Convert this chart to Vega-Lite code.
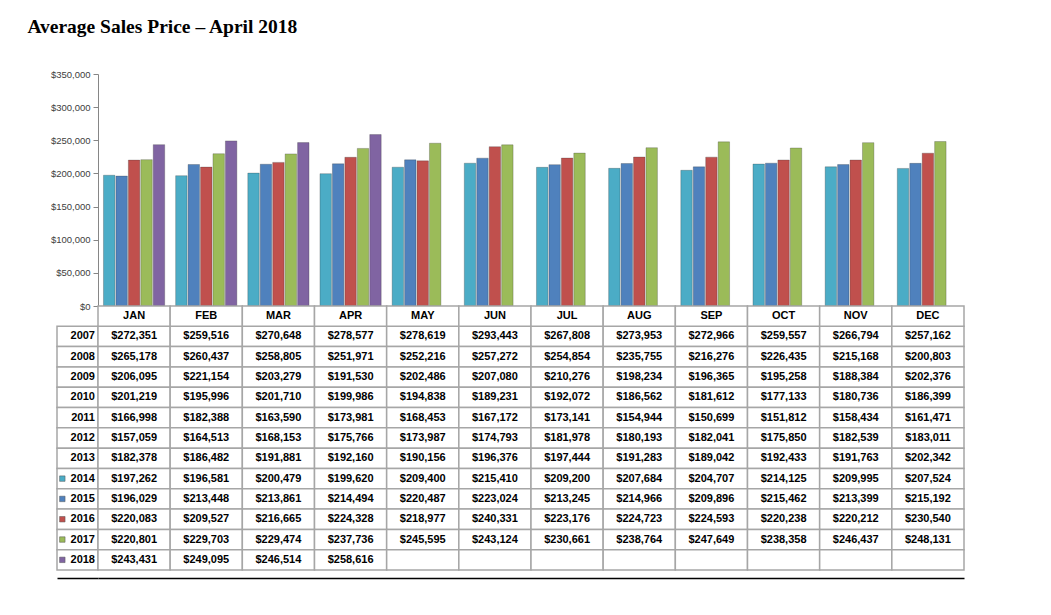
{
  "$schema": "https://vega.github.io/schema/vega-lite/v6.json",
  "padding": {"left": 27, "top": 16, "right": 10, "bottom": 5},
  "background": "white",
  "title": {"text": "Average Sales Price – April 2018", "anchor": "start", "font": "Liberation Serif", "fontSize": 19.5, "fontWeight": "bold", "color": "#000000", "offset": 32, "dx": -23},
  "config": {"view": {"stroke": null}, "font": "Liberation Sans"},
  "datasets": {
    "sales": [
      {"year":"2007","month":"JAN","value":272351},{"year":"2007","month":"FEB","value":259516},{"year":"2007","month":"MAR","value":270648},{"year":"2007","month":"APR","value":278577},{"year":"2007","month":"MAY","value":278619},{"year":"2007","month":"JUN","value":293443},{"year":"2007","month":"JUL","value":267808},{"year":"2007","month":"AUG","value":273953},{"year":"2007","month":"SEP","value":272966},{"year":"2007","month":"OCT","value":259557},{"year":"2007","month":"NOV","value":266794},{"year":"2007","month":"DEC","value":257162},
      {"year":"2008","month":"JAN","value":265178},{"year":"2008","month":"FEB","value":260437},{"year":"2008","month":"MAR","value":258805},{"year":"2008","month":"APR","value":251971},{"year":"2008","month":"MAY","value":252216},{"year":"2008","month":"JUN","value":257272},{"year":"2008","month":"JUL","value":254854},{"year":"2008","month":"AUG","value":235755},{"year":"2008","month":"SEP","value":216276},{"year":"2008","month":"OCT","value":226435},{"year":"2008","month":"NOV","value":215168},{"year":"2008","month":"DEC","value":200803},
      {"year":"2009","month":"JAN","value":206095},{"year":"2009","month":"FEB","value":221154},{"year":"2009","month":"MAR","value":203279},{"year":"2009","month":"APR","value":191530},{"year":"2009","month":"MAY","value":202486},{"year":"2009","month":"JUN","value":207080},{"year":"2009","month":"JUL","value":210276},{"year":"2009","month":"AUG","value":198234},{"year":"2009","month":"SEP","value":196365},{"year":"2009","month":"OCT","value":195258},{"year":"2009","month":"NOV","value":188384},{"year":"2009","month":"DEC","value":202376},
      {"year":"2010","month":"JAN","value":201219},{"year":"2010","month":"FEB","value":195996},{"year":"2010","month":"MAR","value":201710},{"year":"2010","month":"APR","value":199986},{"year":"2010","month":"MAY","value":194838},{"year":"2010","month":"JUN","value":189231},{"year":"2010","month":"JUL","value":192072},{"year":"2010","month":"AUG","value":186562},{"year":"2010","month":"SEP","value":181612},{"year":"2010","month":"OCT","value":177133},{"year":"2010","month":"NOV","value":180736},{"year":"2010","month":"DEC","value":186399},
      {"year":"2011","month":"JAN","value":166998},{"year":"2011","month":"FEB","value":182388},{"year":"2011","month":"MAR","value":163590},{"year":"2011","month":"APR","value":173981},{"year":"2011","month":"MAY","value":168453},{"year":"2011","month":"JUN","value":167172},{"year":"2011","month":"JUL","value":173141},{"year":"2011","month":"AUG","value":154944},{"year":"2011","month":"SEP","value":150699},{"year":"2011","month":"OCT","value":151812},{"year":"2011","month":"NOV","value":158434},{"year":"2011","month":"DEC","value":161471},
      {"year":"2012","month":"JAN","value":157059},{"year":"2012","month":"FEB","value":164513},{"year":"2012","month":"MAR","value":168153},{"year":"2012","month":"APR","value":175766},{"year":"2012","month":"MAY","value":173987},{"year":"2012","month":"JUN","value":174793},{"year":"2012","month":"JUL","value":181978},{"year":"2012","month":"AUG","value":180193},{"year":"2012","month":"SEP","value":182041},{"year":"2012","month":"OCT","value":175850},{"year":"2012","month":"NOV","value":182539},{"year":"2012","month":"DEC","value":183011},
      {"year":"2013","month":"JAN","value":182378},{"year":"2013","month":"FEB","value":186482},{"year":"2013","month":"MAR","value":191881},{"year":"2013","month":"APR","value":192160},{"year":"2013","month":"MAY","value":190156},{"year":"2013","month":"JUN","value":196376},{"year":"2013","month":"JUL","value":197444},{"year":"2013","month":"AUG","value":191283},{"year":"2013","month":"SEP","value":189042},{"year":"2013","month":"OCT","value":192433},{"year":"2013","month":"NOV","value":191763},{"year":"2013","month":"DEC","value":202342},
      {"year":"2014","month":"JAN","value":197262},{"year":"2014","month":"FEB","value":196581},{"year":"2014","month":"MAR","value":200479},{"year":"2014","month":"APR","value":199620},{"year":"2014","month":"MAY","value":209400},{"year":"2014","month":"JUN","value":215410},{"year":"2014","month":"JUL","value":209200},{"year":"2014","month":"AUG","value":207684},{"year":"2014","month":"SEP","value":204707},{"year":"2014","month":"OCT","value":214125},{"year":"2014","month":"NOV","value":209995},{"year":"2014","month":"DEC","value":207524},
      {"year":"2015","month":"JAN","value":196029},{"year":"2015","month":"FEB","value":213448},{"year":"2015","month":"MAR","value":213861},{"year":"2015","month":"APR","value":214494},{"year":"2015","month":"MAY","value":220487},{"year":"2015","month":"JUN","value":223024},{"year":"2015","month":"JUL","value":213245},{"year":"2015","month":"AUG","value":214966},{"year":"2015","month":"SEP","value":209896},{"year":"2015","month":"OCT","value":215462},{"year":"2015","month":"NOV","value":213399},{"year":"2015","month":"DEC","value":215192},
      {"year":"2016","month":"JAN","value":220083},{"year":"2016","month":"FEB","value":209527},{"year":"2016","month":"MAR","value":216665},{"year":"2016","month":"APR","value":224328},{"year":"2016","month":"MAY","value":218977},{"year":"2016","month":"JUN","value":240331},{"year":"2016","month":"JUL","value":223176},{"year":"2016","month":"AUG","value":224723},{"year":"2016","month":"SEP","value":224593},{"year":"2016","month":"OCT","value":220238},{"year":"2016","month":"NOV","value":220212},{"year":"2016","month":"DEC","value":230540},
      {"year":"2017","month":"JAN","value":220801},{"year":"2017","month":"FEB","value":229703},{"year":"2017","month":"MAR","value":229474},{"year":"2017","month":"APR","value":237736},{"year":"2017","month":"MAY","value":245595},{"year":"2017","month":"JUN","value":243124},{"year":"2017","month":"JUL","value":230661},{"year":"2017","month":"AUG","value":238764},{"year":"2017","month":"SEP","value":247649},{"year":"2017","month":"OCT","value":238358},{"year":"2017","month":"NOV","value":246437},{"year":"2017","month":"DEC","value":248131},
      {"year":"2018","month":"JAN","value":243431},{"year":"2018","month":"FEB","value":249095},{"year":"2018","month":"MAR","value":246514},{"year":"2018","month":"APR","value":258616},{"year":"2018","month":"MAY","value":null},{"year":"2018","month":"JUN","value":null},{"year":"2018","month":"JUL","value":null},{"year":"2018","month":"AUG","value":null},{"year":"2018","month":"SEP","value":null},{"year":"2018","month":"OCT","value":null},{"year":"2018","month":"NOV","value":null},{"year":"2018","month":"DEC","value":null}
    ]
  },
  "data": {"name": "sales"},
  "spacing": 0,
  "bounds": "flush",
  "vconcat": [
    {
      "width": 907,
      "height": 232,
      "transform": [
        {"filter": {"field": "year", "oneOf": ["2014", "2015", "2016", "2017", "2018"]}},
        {"filter": "isValid(datum.value)"}
      ],
      "mark": {"type": "bar", "stroke": "#333333", "strokeOpacity": 0.35, "strokeWidth": 0.8},
      "encoding": {
        "x": {"field": "month", "type": "nominal", "axis": null,
          "scale": {"domain": ["JAN","FEB","MAR","APR","MAY","JUN","JUL","AUG","SEP","OCT","NOV","DEC"], "paddingInner": 0, "paddingOuter": 0.28406, "align": 1}},
        "xOffset": {"field": "year", "type": "nominal",
          "scale": {"domain": ["2014","2015","2016","2017","2018"], "paddingInner": 0.08, "paddingOuter": 0.44}},
        "y": {"field": "value", "type": "quantitative",
          "scale": {"domain": [0, 350000]},
          "axis": {"values": [0, 50000, 100000, 150000, 200000, 250000, 300000, 350000], "format": "$,.0f", "offset": -41, "title": null, "grid": false, "domainColor": "#868686", "tickColor": "#868686", "tickSize": 5, "labelPadding": 3, "labelFontSize": 9.5, "labelColor": "#404040", "labelFont": "Liberation Sans"}},
        "color": {"field": "year", "type": "nominal", "legend": null,
          "scale": {"domain": ["2014","2015","2016","2017","2018"], "range": ["#4BACC6", "#4F81BD", "#C0504D", "#9BBB59", "#8064A2"]}}
      }
    },
    {
      "spacing": 0,
      "bounds": "flush",
      "hconcat": [
        {
          "width": 41,
          "height": 264,
          "transform": [{"filter": {"field": "month", "equal": "JAN"}}],
          "layer": [
            {
              "mark": {"type": "rect", "fill": "white", "stroke": "#a6a6a6", "strokeWidth": 1.5},
              "encoding": {
                "x": {"datum": 0, "type": "quantitative", "scale": {"domain": [0, 1], "nice": false},
                  "axis": {"orient": "bottom", "offset": 8, "domainColor": "#000000", "domainWidth": 1.5, "labels": false, "ticks": false, "title": null, "grid": false}},
                "x2": {"datum": 1},
                "y": {"field": "year", "type": "ordinal", "axis": null,
                  "scale": {"domain": ["Month","2007","2008","2009","2010","2011","2012","2013","2014","2015","2016","2017","2018"], "paddingInner": 0, "paddingOuter": 0}}
              }
            },
            {
              "mark": {"type": "text", "align": "right", "dx": -3, "font": "Liberation Sans", "fontSize": 11, "fontWeight": "bold", "color": "#000000"},
              "encoding": {
                "x": {"datum": 1, "type": "quantitative"},
                "y": {"field": "year", "type": "ordinal", "axis": null},
                "text": {"field": "year", "type": "nominal"}
              }
            },
            {
              "transform": [{"filter": {"field": "year", "oneOf": ["2014","2015","2016","2017","2018"]}}],
              "mark": {"type": "point", "shape": "square", "filled": true, "size": 30, "opacity": 1, "stroke": "#555555", "strokeWidth": 0.5},
              "encoding": {
                "x": {"datum": 0.13, "type": "quantitative"},
                "y": {"field": "year", "type": "ordinal", "axis": null},
                "color": {"field": "year", "type": "nominal", "legend": null,
                  "scale": {"domain": ["2014","2015","2016","2017","2018"], "range": ["#4BACC6", "#4F81BD", "#C0504D", "#9BBB59", "#8064A2"]}}
              }
            }
          ]
        },
        {
          "width": 866,
          "height": 264,
          "encoding": {
            "x": {"field": "month", "type": "nominal",
              "scale": {"domain": ["JAN","FEB","MAR","APR","MAY","JUN","JUL","AUG","SEP","OCT","NOV","DEC"], "paddingInner": 0, "paddingOuter": 0},
              "axis": {"orient": "bottom", "offset": 8, "domainColor": "#000000", "domainWidth": 1.5, "labels": false, "ticks": false, "title": null, "grid": false}}
          },
          "layer": [
            {
              "mark": {"type": "rect", "fill": "white", "stroke": "#a6a6a6", "strokeWidth": 1.5},
              "encoding": {
                "y": {"field": "year", "type": "ordinal", "axis": null,
                  "scale": {"domain": ["Month","2007","2008","2009","2010","2011","2012","2013","2014","2015","2016","2017","2018"], "paddingInner": 0, "paddingOuter": 0}}
              }
            },
            {
              "transform": [{"filter": "isValid(datum.value)"}],
              "mark": {"type": "text", "font": "Liberation Sans", "fontSize": 11, "fontWeight": "bold", "color": "#000000"},
              "encoding": {
                "y": {"field": "year", "type": "ordinal", "axis": null},
                "text": {"field": "value", "type": "quantitative", "format": "$,.0f"}
              }
            },
            {
              "transform": [{"filter": {"field": "year", "equal": "2007"}}],
              "mark": {"type": "rect", "fill": "white", "stroke": "#a6a6a6", "strokeWidth": 1.5},
              "encoding": {
                "y": {"datum": "Month", "type": "ordinal", "axis": null}
              }
            },
            {
              "transform": [{"filter": {"field": "year", "equal": "2007"}}],
              "mark": {"type": "text", "font": "Liberation Sans", "fontSize": 11, "fontWeight": "bold", "color": "#000000"},
              "encoding": {
                "y": {"datum": "Month", "type": "ordinal", "axis": null},
                "text": {"field": "month", "type": "nominal"}
              }
            }
          ]
        }
      ]
    }
  ]
}
